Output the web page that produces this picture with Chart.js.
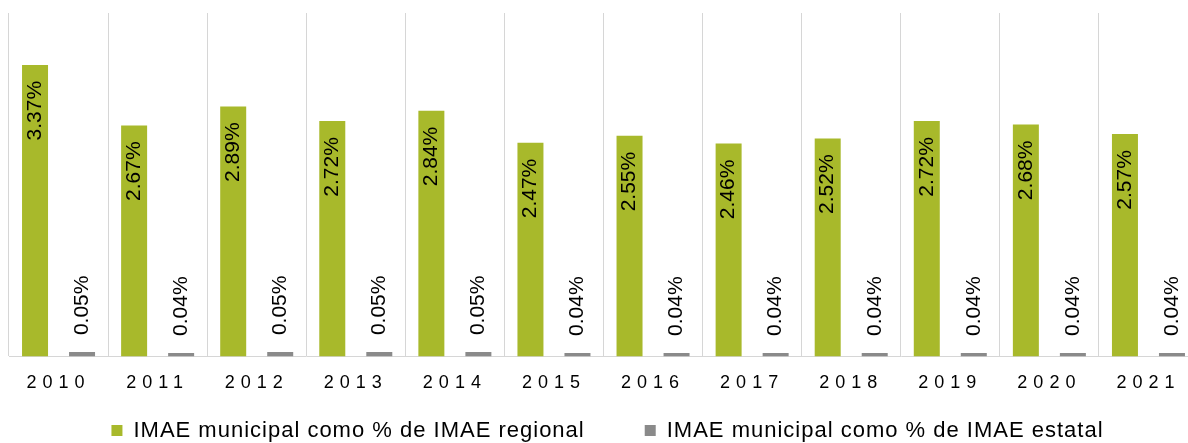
<!DOCTYPE html>
<html>
<head>
<meta charset="utf-8">
<script src="https://cdn.jsdelivr.net/npm/chart.js@4/dist/chart.umd.min.js"></script>
<style>
  html, body { margin: 0; padding: 0; background: #fff; overflow: hidden; }
  #wrap { width: 1200px; height: 443px; }
</style>
</head>
<body>
<div id="wrap"><canvas id="c" width="1200" height="443"></canvas></div>
<script>
const categories = ['2010','2011','2012','2013','2014','2015','2016','2017','2018','2019','2020','2021'];
const regionalValues = [3.37, 2.67, 2.89, 2.72, 2.84, 2.47, 2.55, 2.46, 2.52, 2.72, 2.68, 2.57];
const estatalValues  = [0.05, 0.04, 0.05, 0.05, 0.05, 0.04, 0.04, 0.04, 0.04, 0.04, 0.04, 0.04];
const seriesNames = ['IMAE municipal como % de IMAE regional', 'IMAE municipal como % de IMAE estatal'];

const GREEN = '#A8B92B';
const GRAY = '#8A8A8A';
const FONT = '"Liberation Sans", Arial, sans-serif';

const LEGEND_PAD = 60;
const LEGEND_H = 33;
const LEGEND_TEXT_Y = 430.5;
const LEGEND_DX = 4;
const LEGEND_LS = '1px';
const TICK_LS = '6px';

const tweaks = {
  id: 'tweaks',
  beforeLayout(chart) {
    const lg = chart.legend;
    if (lg && !lg._wrapped) {
      lg._wrapped = true;
      const fit = lg.fit, draw = lg.draw;
      lg.fit = function () {
        this.ctx.save(); this.ctx.letterSpacing = LEGEND_LS;
        fit.call(this);
        this.ctx.restore();
        this.height = LEGEND_H;
      };
      lg.draw = function () {
        this.ctx.save(); this.ctx.letterSpacing = LEGEND_LS;
        draw.call(this);
        this.ctx.restore();
      };
    }
  },
  afterLayout(chart) {
    const lg = chart.legend;
    const fs = 22;
    lg.top = LEGEND_TEXT_Y - LEGEND_PAD - fs / 2;
    lg.bottom = chart.height;
    lg.left += LEGEND_DX;
    lg.right += LEGEND_DX;
  },
  beforeDraw(chart) {
    const sx = chart.scales.x;
    if (sx && !sx._wrapped) {
      sx._wrapped = true;
      const dl = sx.drawLabels;
      sx.drawLabels = function (a) {
        this.ctx.save(); this.ctx.letterSpacing = TICK_LS;
        dl.call(this, a);
        this.ctx.restore();
      };
    }
  },
  afterDatasetsDraw(chart) {
    const ctx = chart.ctx;
    chart.data.datasets.forEach((ds, di) => {
      const meta = chart.getDatasetMeta(di);
      meta.data.forEach((bar, i) => {
        const txt = ds.data[i].toFixed(2) + '%';
        ctx.save();
        ctx.font = '21px ' + FONT;
        ctx.fillStyle = '#000';
        ctx.textBaseline = 'middle';
        if (di === 0) {
          ctx.translate(bar.x, bar.y + 16);
          ctx.rotate(-Math.PI / 2);
          ctx.textAlign = 'right';
        } else {
          ctx.translate(bar.x, bar.y - 17);
          ctx.rotate(-Math.PI / 2);
          ctx.textAlign = 'left';
        }
        ctx.fillText(txt, 0, 0);
        ctx.restore();
      });
    });
  }
};

new Chart(document.getElementById('c'), {
  type: 'bar',
  data: {
    labels: categories,
    datasets: [
      { label: seriesNames[0], data: regionalValues, backgroundColor: GREEN, borderWidth: 0,
        categoryPercentage: 0.949, barPercentage: 0.553 },
      { label: seriesNames[1], data: estatalValues, backgroundColor: GRAY, borderWidth: 0,
        categoryPercentage: 0.949, barPercentage: 0.553 }
    ]
  },
  options: {
    responsive: false,
    devicePixelRatio: 1,
    animation: false,
    layout: { padding: { left: 9, right: 2, top: 13, bottom: 0 } },
    plugins: {
      legend: {
        position: 'bottom',
        labels: {
          font: { family: FONT, size: 22 },
          color: '#000',
          boxWidth: 11,
          boxHeight: 11,
          padding: LEGEND_PAD
        }
      },
      tooltip: { enabled: false }
    },
    scales: {
      x: {
        grid: { display: true, color: '#D6D6D6', lineWidth: 1, drawTicks: false, offset: true },
        border: { display: true, color: '#D6D6D6', width: 1 },
        ticks: { font: { family: FONT, size: 18 }, color: '#000', padding: 16, maxRotation: 0 }
      },
      y: {
        display: false,
        min: 0,
        max: 3.97
      }
    }
  },
  plugins: [tweaks]
});
</script>
</body>
</html>
